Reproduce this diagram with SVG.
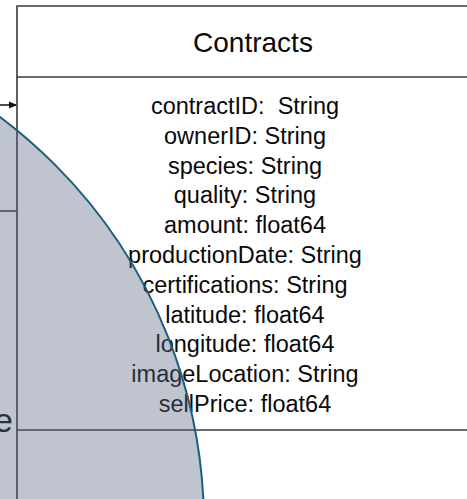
<svg xmlns="http://www.w3.org/2000/svg" width="467" height="499" viewBox="0 0 467 499">
<style>
.ln{stroke:#3a3a3a;stroke-width:1.6;fill:none}
.t{font-family:"Liberation Sans",Arial,Helvetica,sans-serif;fill:#0a0a0a;text-anchor:middle}
.attr{font-size:23.5px}
.title{font-size:28px}
</style>
<defs>
<marker id="ah" markerWidth="8" markerHeight="8" refX="7" refY="4" orient="auto" markerUnits="userSpaceOnUse">
<path d="M0,0.5 L8,4 L0,7.5 Z" fill="#111"/>
</marker>
</defs>
<rect width="467" height="499" fill="#fff"/>
<g id="left-node">
<line class="ln" x1="0" y1="211" x2="17" y2="211"/>
<text x="13" y="432" font-family="Liberation Sans,Arial,sans-serif" font-size="34" fill="#111" text-anchor="end">e</text>
</g>
<g id="contracts">
<path class="ln" d="M475,6 H17 V505"/>
<line class="ln" x1="17" y1="77" x2="475" y2="77"/>
<line class="ln" x1="17" y1="430" x2="475" y2="430"/>
<text class="t title" x="253" y="52">Contracts</text>
<g class="t attr">
<text x="245" y="114" xml:space="preserve">contractID:  String</text>
<text x="245" y="143.8">ownerID: String</text>
<text x="245" y="173.6">species: String</text>
<text x="245" y="203.4">quality: String</text>
<text x="245" y="233.2">amount: float64</text>
<text x="245" y="263">productionDate: String</text>
<text x="245" y="292.8">certifications: String</text>
<text x="245" y="322.6">latitude: float64</text>
<text x="245" y="352.4">longitude: float64</text>
<text x="245" y="382.2">imageLocation: String</text>
<text x="245" y="412">sellPrice: float64</text>
</g>
</g>
<g id="connectors">
<line x1="0" y1="105" x2="16" y2="105" stroke="#111" stroke-width="1.5" marker-end="url(#ah)"/>
</g>
<circle cx="-306" cy="525" r="510" fill="#5a6480" fill-opacity="0.38" stroke="#1b5f7e" stroke-width="2"/>
</svg>
